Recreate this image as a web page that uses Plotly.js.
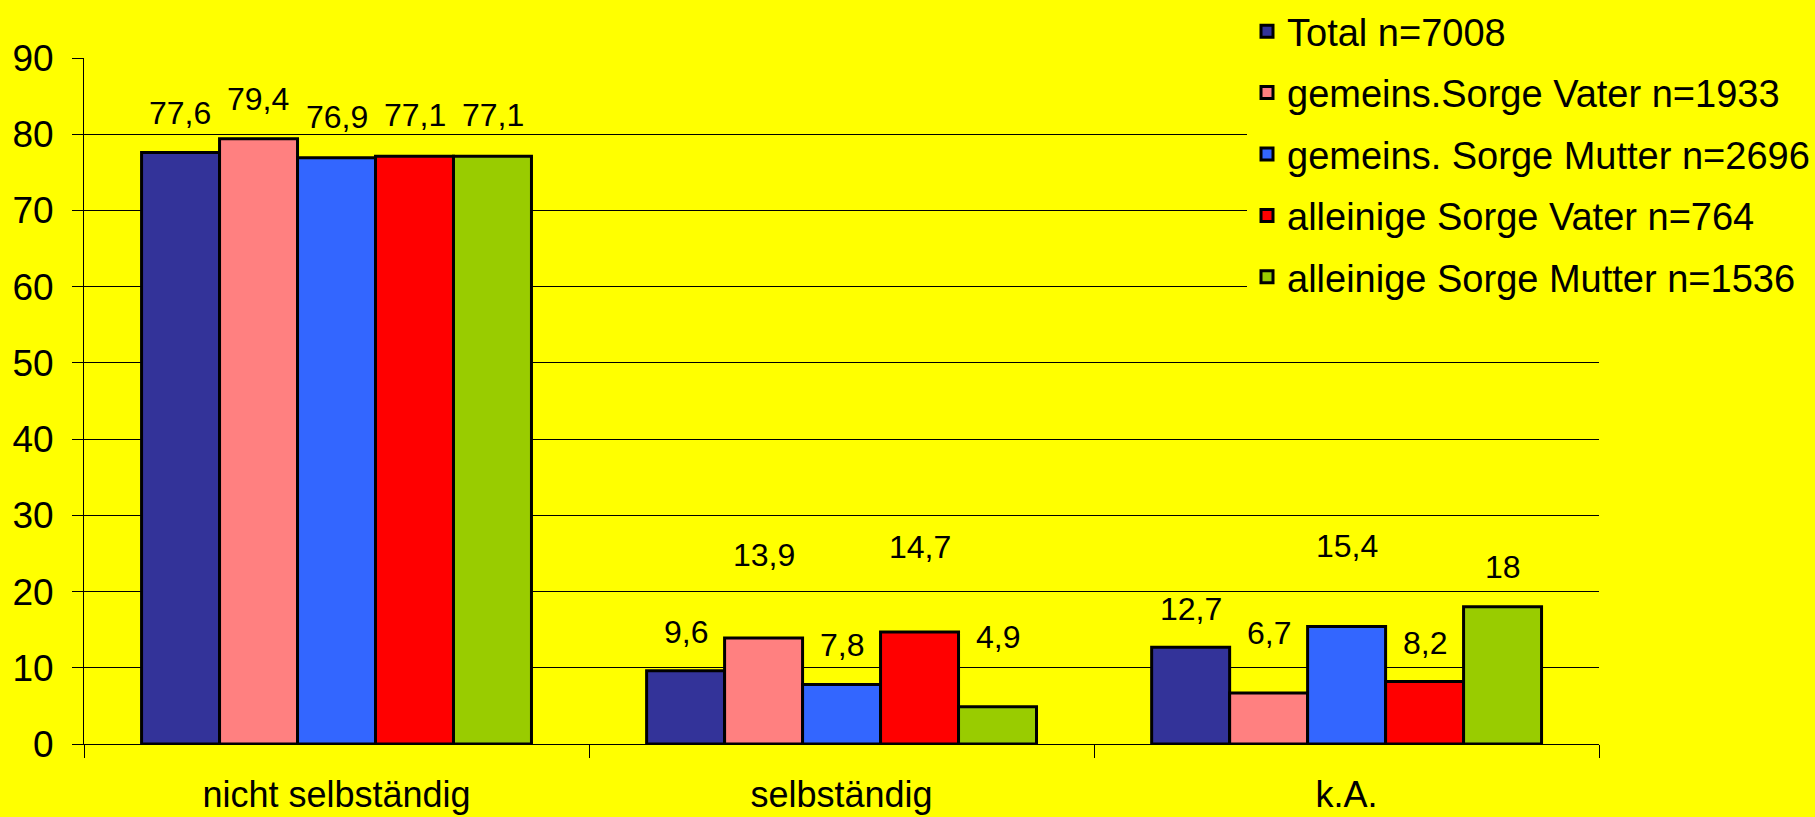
<!DOCTYPE html>
<html>
<head>
<meta charset="utf-8">
<script src="https://cdn.plot.ly/plotly-3.0.1.min.js"></script>
<style>html,body{margin:0;padding:0;background:#FFFF00;}#chart{width:1815px;height:817px;}</style>
</head>
<body>
<div id="chart"></div>
<script>
// ---- data ----
const categories = ['nicht selbständig', 'selbständig', 'k.A.'];
const seriesNames = ['Total n=7008', 'gemeins.Sorge Vater n=1933', 'gemeins. Sorge Mutter n=2696', 'alleinige Sorge Vater n=764', 'alleinige Sorge Mutter n=1536'];
const totalValues = [77.6, 9.6, 12.7];
const gemVaterValues = [79.4, 13.9, 6.7];
const gemMutterValues = [76.9, 7.8, 15.4];
const alVaterValues = [77.1, 14.7, 8.2];
const alMutterValues = [77.1, 4.9, 18];
const yTicks = [0, 10, 20, 30, 40, 50, 60, 70, 80, 90];

// ---- style ----
const colors = ['#333399', '#FF8080', '#3366FF', '#FF0000', '#99CC00'];
// vertical offset (px) of each data label above its bar, as placed in the original chart
const labelLift = [
  [40, 39, 38],
  [40, 83, 60],
  [41, 40, 81],
  [41, 85, 39],
  [41, 70, 40]
];
const W = 1815, H = 817;
// plot area in pixels
const PL = 84, PR = 1600, PT = 58, PB = 744;
const M = {l: PL, r: 0, t: 0, b: H - PB};
const paperW = W - M.l - M.r, paperH = H - M.t - M.b;
const bargap = 0.228;
const FONT = 'Liberation Sans, Arial, sans-serif';

const allSeries = [totalValues, gemVaterValues, gemMutterValues, alVaterValues, alMutterValues];
const fmt = v => String(v).replace('.', ',');

const traces = allSeries.map((vals, i) => ({
  type: 'bar',
  name: seriesNames[i],
  x: categories,
  y: vals,
  legendgroup: 'g' + i,
  marker: {color: colors[i], line: {color: '#000000', width: 3}},
  hoverinfo: 'x+y+name'
}));

const plotW = PR - PL;
const catW = plotW / categories.length;
const barW = catW * (1 - bargap) / allSeries.length;

const annotations = [];
allSeries.forEach((vals, i) => {
  vals.forEach((v, j) => {
    annotations.push({
      x: categories[j], y: v, xref: 'x', yref: 'y',
      text: fmt(v), showarrow: false,
      xanchor: 'center', yanchor: 'middle',
      xshift: (i - (allSeries.length - 1) / 2) * barW,
      yshift: labelLift[i][j],
      font: {family: FONT, size: 32, color: '#000000'}
    });
  });
});

const layout = {
  width: W, height: H,
  margin: M,
  paper_bgcolor: '#FFFF00',
  plot_bgcolor: '#FFFF00',
  font: {family: FONT, color: '#000000'},
  barmode: 'group',
  bargap: bargap,
  bargroupgap: 0,
  showlegend: true,
  legend: {
    x: (1248 - PL) / paperW, xanchor: 'left',
    y: 1, yanchor: 'top',
    bgcolor: '#FFFF00',
    borderwidth: 0,
    font: {family: FONT, size: 38, color: '#000000'},
    tracegroupgap: 9,
    traceorder: 'grouped'
  },
  xaxis: {
    type: 'category',
    domain: [0, plotW / paperW],
    tickson: 'boundaries',
    ticks: 'outside', ticklen: 13, tickcolor: '#000000', tickwidth: 1,
    showline: true, linecolor: '#000000', linewidth: 1,
    showgrid: false,
    tickfont: {family: FONT, size: 36, color: '#000000'},
    ticklabelstandoff: 19,
    fixedrange: true
  },
  yaxis: {
    range: [0, 90],
    domain: [0, (PB - PT) / paperH],
    tickvals: yTicks,
    ticktext: yTicks.map(String),
    ticks: 'outside', ticklen: 11, tickcolor: '#000000', tickwidth: 1,
    showline: true, linecolor: '#000000', linewidth: 1,
    showgrid: true, gridcolor: '#000000', gridwidth: 1,
    zeroline: true, zerolinecolor: '#000000', zerolinewidth: 1,
    tickfont: {family: FONT, size: 37, color: '#000000'},
    ticklabelstandoff: 11,
    fixedrange: true
  },
  annotations: annotations
};

Plotly.newPlot('chart', traces, layout, {displayModeBar: false, responsive: false});
</script>
</body>
</html>
